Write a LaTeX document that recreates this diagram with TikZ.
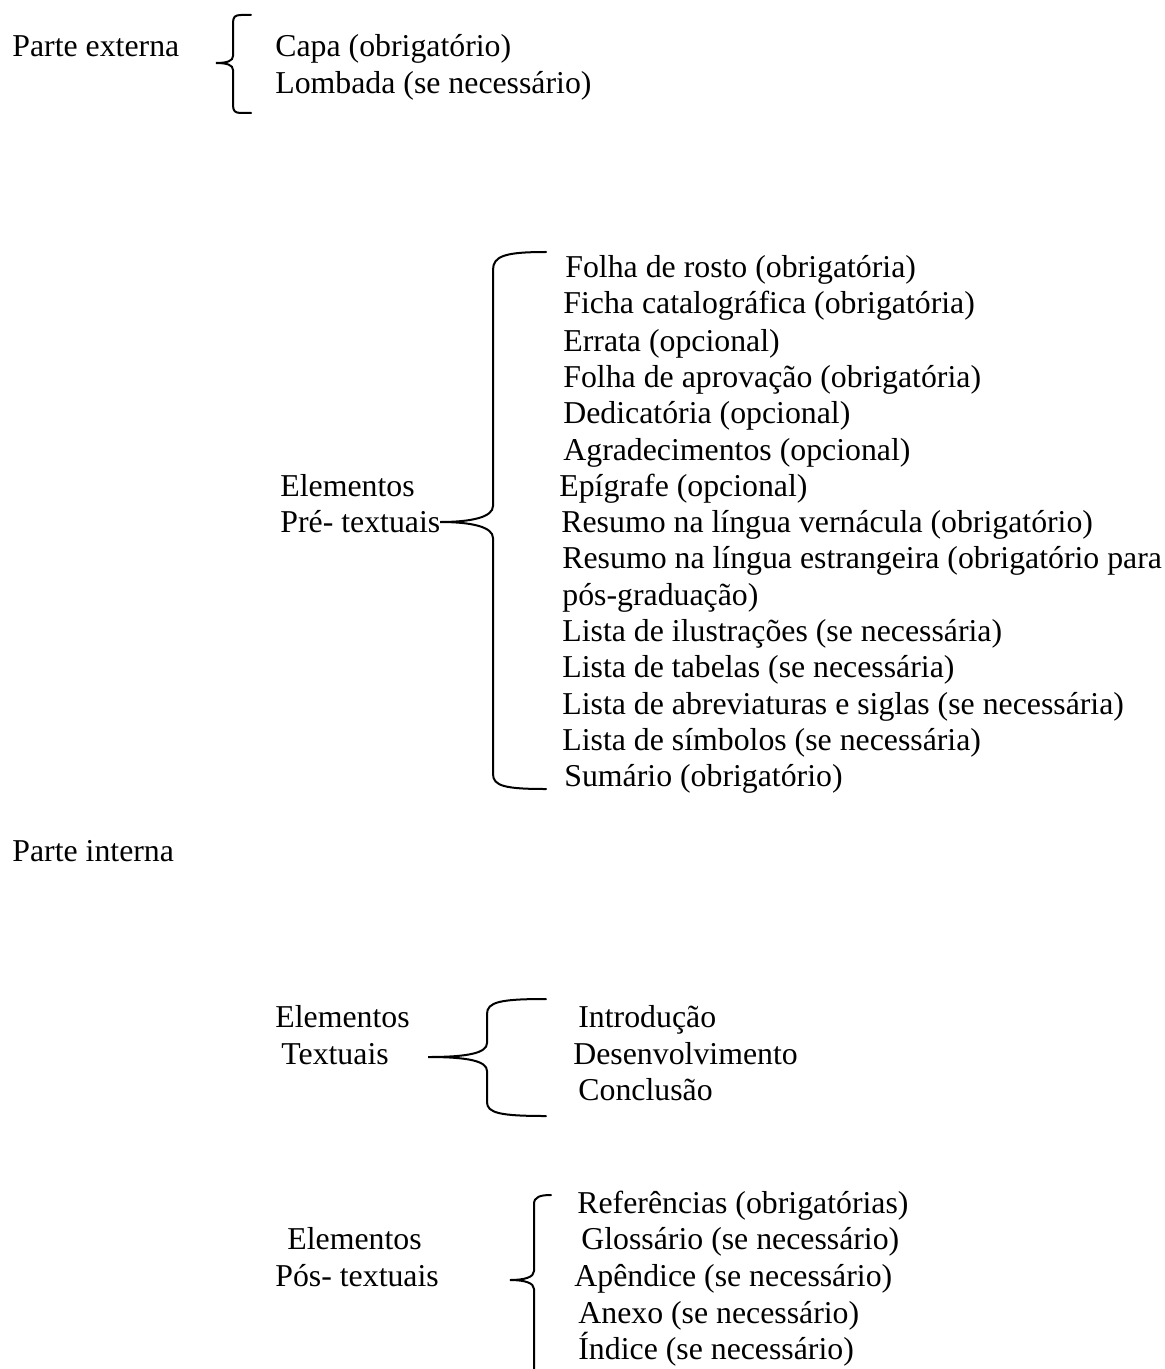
\documentclass[tikz,border=0pt]{standalone}
\usepackage{fontspec}
\setmainfont{Liberation Serif}
\begin{document}
\begin{tikzpicture}[
    x=0.5pt, y=-0.5pt,
    txt/.style={anchor=base west, inner sep=0pt, font=\fontsize{15.9}{18}\selectfont},
    curly/.style={line width=1pt, line cap=round}
]
    \useasboundingbox (0,0) rectangle (1165,1369);

    % Parte externa
    \node[txt] (ext) at (12, 57) {Parte externa};
    \node[txt] (capa) at (275, 57) {Capa (obrigatório)};
    \node[txt] (lomb) at (275, 94) {Lombada (se necessário)};
    \coordinate (exttip) at (216, 63);
    \draw[curly] (251,15) -- (241,15) .. controls (235,15) and (233,17) .. (233,23) -- (233,56)
        .. controls (233,61) and (227,63) .. (exttip)
        .. controls (227,63) and (233,65) .. (233,70) -- (233,105)
        .. controls (233,111) and (235,113) .. (241,113) -- (251,113);

    % Elementos pre-textuais
    \node[txt] (pre1) at (280, 496) {Elementos};
    \node[txt] (pre2) at (280, 532) {Pré- textuais};
    \node[txt] (f1) at (565, 278) {Folha de rosto (obrigatória)};
    \node[txt] (f2) at (563, 314) {Ficha catalográfica (obrigatória)};
    \node[txt] (f3) at (563, 351) {Errata (opcional)};
    \node[txt] (f4) at (563, 387) {Folha de aprovação (obrigatória)};
    \node[txt] (f5) at (563, 423) {Dedicatória (opcional)};
    \node[txt] (f6) at (563, 460) {Agradecimentos (opcional)};
    \node[txt] (f7) at (559, 496) {Epígrafe (opcional)};
    \node[txt] (f8) at (561, 532) {Resumo na língua vernácula (obrigatório)};
    \node[txt] (f9) at (562, 568) {Resumo na língua estrangeira (obrigatório para};
    \node[txt] (f10) at (562, 605) {pós-graduação)};
    \node[txt] (f11) at (562, 641) {Lista de ilustrações (se necessária)};
    \node[txt] (f12) at (562, 677) {Lista de tabelas (se necessária)};
    \node[txt] (f13) at (562, 714) {Lista de abreviaturas e siglas (se necessária)};
    \node[txt] (f14) at (562, 750) {Lista de símbolos (se necessária)};
    \node[txt] (f15) at (564, 786) {Sumário (obrigatório)};
    \coordinate (pretip) at (440, 522);
    \draw[curly] (546,252) .. controls (505,252) and (493,256) .. (493,270) -- (493,506)
        .. controls (493,517) and (472,522) .. (pretip)
        .. controls (472,522) and (493,527) .. (493,538) -- (493,774)
        .. controls (493,786) and (505,789) .. (546,789);

    % Parte interna
    \node[txt] (int) at (12, 861) {Parte interna};

    % Elementos textuais
    \node[txt] (tex1) at (275, 1027) {Elementos};
    \node[txt] (tex2) at (281, 1064) {Textuais};
    \node[txt] (t1) at (578, 1027) {Introdução};
    \node[txt] (t2) at (573, 1064) {Desenvolvimento};
    \node[txt] (t3) at (578, 1100) {Conclusão};
    \coordinate (textip) at (428, 1057);
    \draw[curly] (546,999) .. controls (500,999) and (487,1002) .. (487,1014) -- (487,1043)
        .. controls (487,1053) and (468,1057) .. (textip)
        .. controls (468,1057) and (487,1061) .. (487,1071) -- (487,1102)
        .. controls (487,1113) and (500,1116) .. (546,1116);

    % Elementos pos-textuais
    \node[txt] (pos1) at (287, 1249) {Elementos};
    \node[txt] (pos2) at (275, 1286) {Pós- textuais};
    \node[txt] (p1) at (577, 1213) {Referências (obrigatórias)};
    \node[txt] (p2) at (581, 1249) {Glossário (se necessário)};
    \node[txt] (p3) at (574, 1286) {Apêndice (se necessário)};
    \node[txt] (p4) at (578, 1323) {Anexo (se necessário)};
    \node[txt] (p5) at (578, 1359) {Índice (se necessário)};
    \coordinate (postip) at (510, 1280);
    \draw[curly] (551,1195) .. controls (540,1195) and (534,1197) .. (534,1204) -- (534,1271)
        .. controls (534,1277) and (525,1280) .. (postip)
        .. controls (525,1280) and (534,1283) .. (534,1289) -- (534,1380);
\end{tikzpicture}
\end{document}
